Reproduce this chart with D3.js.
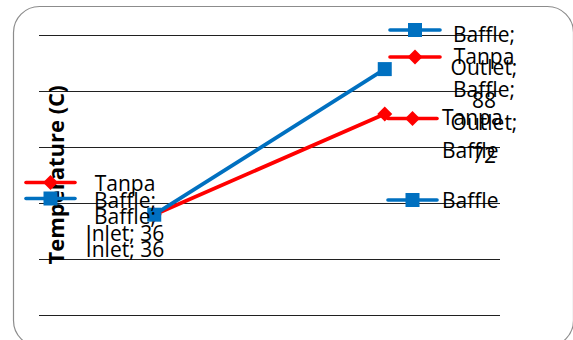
<!DOCTYPE html>
<html>
<head>
<meta charset="utf-8">
<script src="https://cdn.jsdelivr.net/npm/d3@7/dist/d3.min.js"></script>
<style>
  html, body { margin: 0; padding: 0; background: #ffffff; }
  svg { display: block; font-family: "Open Sans", "Noto Sans", sans-serif; }
</style>
</head>
<body>
<svg id="chart" width="573" height="340"></svg>
<script>
// ---- data ----
const categories = ["Inlet", "Outlet"];
const seriesNames = ["Tanpa Baffle", "Baffle"];
const tanpaBaffleValues = [36, 72];
const baffleValues = [36, 88];
const yTicks = [0, 20, 40, 60, 80, 100];
const yAxisTitle = "Temperature (C)";

// ---- layout ----
const W = 573, H = 340;
const plot = { left: 39, right: 500, top: 35.5, bottom: 315.5 };
const fontSize = 21;
const lineGap = 33;
const colors = { "Tanpa Baffle": "#FF0000", "Baffle": "#0070C0" };
const markers = { "Tanpa Baffle": "diamond", "Baffle": "square" };

const svg = d3.select("#chart");

// frame
svg.append("rect")
  .attr("x", 13.5).attr("y", 6.5)
  .attr("width", 560).attr("height", 340)
  .attr("rx", 26).attr("ry", 26)
  .attr("fill", "#ffffff")
  .attr("stroke", "#8c8c8c").attr("stroke-width", 1.2);

const x = d3.scalePoint().domain(categories).range([plot.left, plot.right]).padding(0.5);
const y = d3.scaleLinear().domain([0, 100]).range([plot.bottom, plot.top]);

// gridlines via axis
const grid = svg.append("g").attr("transform", `translate(${plot.left},0)`)
  .call(d3.axisRight(y).offset(0).tickValues(yTicks).tickSize(plot.right - plot.left).tickFormat(""));
grid.select(".domain").remove();
grid.selectAll(".tick line").attr("stroke", "#202020").attr("stroke-width", 1.1);

// y-axis title
svg.append("text")
  .attr("transform", "translate(64,175) rotate(-90)")
  .attr("text-anchor", "middle")
  .attr("font-size", 22).attr("font-weight", "bold")
  .attr("fill", "#000")
  .text(yAxisTitle);

const series = [
  { name: seriesNames[0], values: tanpaBaffleValues },
  { name: seriesNames[1], values: baffleValues }
];

function drawMarker(g, name, cx, cy) {
  if (markers[name] === "diamond") {
    const s = 7.5;
    g.append("path").attr("d", `M${cx},${cy - s}L${cx + s},${cy}L${cx},${cy + s}L${cx - s},${cy}Z`)
      .attr("fill", colors[name]);
  } else {
    const s = 7;
    g.append("rect").attr("x", cx - s).attr("y", cy - s).attr("width", 2 * s).attr("height", 2 * s)
      .attr("fill", colors[name]);
  }
}
function drawKey(g, name, x0, x1, cy) {
  g.append("line").attr("x1", x0).attr("x2", x1).attr("y1", cy).attr("y2", cy)
    .attr("stroke", colors[name]).attr("stroke-width", 3.6).attr("stroke-linecap", "round");
  drawMarker(g, name, (x0 + x1) / 2, cy);
}

// lines + markers
const line = d3.line().x((d, i) => x(categories[i])).y(d => y(d));
series.forEach(s => {
  const g = svg.append("g");
  g.append("path").datum(s.values).attr("d", line)
    .attr("fill", "none").attr("stroke", colors[s.name]).attr("stroke-width", 3.8)
    .attr("stroke-linecap", "round");
  s.values.forEach((v, i) => drawMarker(g, s.name, x(categories[i]), y(v)));
});

// text wrapping helper
const measurer = svg.append("text").attr("font-size", fontSize).attr("visibility", "hidden");
function textWidth(t) { measurer.text(t); return measurer.node().getComputedTextLength(); }
function wrap(str, maxW) {
  const words = str.split(" ");
  const lines = [];
  let cur = "";
  words.forEach(w => {
    const trial = cur ? cur + " " + w : w;
    if (cur && textWidth(trial) > maxW) { lines.push(cur); cur = w; }
    else cur = trial;
  });
  if (cur) lines.push(cur);
  return lines;
}

// data label placement (layout only)
const labelLayout = {
  "Tanpa Baffle|Inlet":  { cx: 125, base: 190.5, key: [26, 75, 182.5] },
  "Baffle|Inlet":        { cx: 125, base: 207.5, key: [26, 75, 198.5] },
  "Baffle|Outlet":       { cx: 484, base: 41.5,  key: [390, 440, 30] },
  "Tanpa Baffle|Outlet": { cx: 484, base: 64,    key: [390, 440, 57] }
};

const labelG = svg.append("g");
series.forEach(s => {
  s.values.forEach((v, i) => {
    const cat = categories[i];
    const L = labelLayout[s.name + "|" + cat];
    const txt = `${s.name}; ${cat}; ${v}`;
    const lines = wrap(txt, 84);
    drawKey(labelG, s.name, L.key[0], L.key[1], L.key[2]);
    const t = labelG.append("text").attr("font-size", fontSize).attr("fill", "#000")
      .attr("text-anchor", "middle");
    lines.forEach((ln, j) => {
      t.append("tspan").attr("x", L.cx).attr("y", L.base + j * lineGap).text(ln);
    });
  });
});

// legend
const legendLayout = {
  "Tanpa Baffle": { key: [388, 437, 118.5], tx: 442, base: 125 },
  "Baffle":       { key: [388, 437, 200], tx: 442, base: 208 }
};
const legG = svg.append("g");
seriesNames.forEach(name => {
  const L = legendLayout[name];
  drawKey(legG, name, L.key[0], L.key[1], L.key[2]);
  const lines = wrap(name, 60);
  const t = legG.append("text").attr("font-size", fontSize).attr("fill", "#000");
  lines.forEach((ln, j) => {
    t.append("tspan").attr("x", L.tx).attr("y", L.base + j * lineGap).text(ln);
  });
});
measurer.remove();
</script>
</body>
</html>
